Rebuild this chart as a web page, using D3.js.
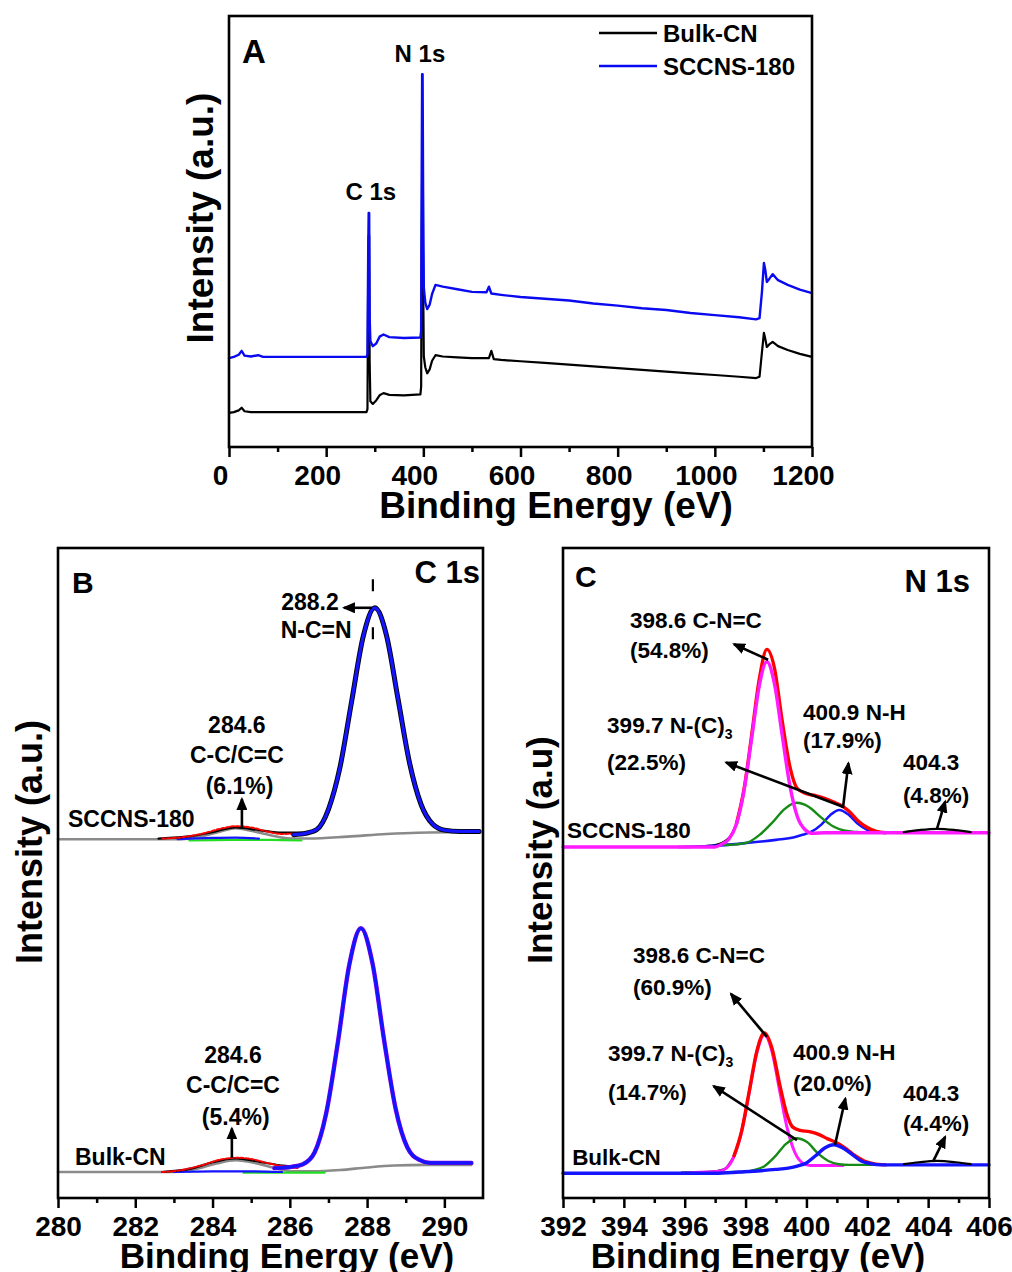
<!DOCTYPE html>
<html><head><meta charset="utf-8">
<script src="https://cdn.jsdelivr.net/npm/d3@7"></script>
<style>body{margin:0;background:#fff}text{font-family:'Liberation Sans',Arial,Helvetica,sans-serif;font-weight:bold;fill:#000}</style>
</head><body>
<script>
// ---------------- DATA ----------------
// Panel A: survey spectra [binding energy (eV), intensity (a.u.)]
const sccnsSurvey = [[0,20.6],[10,20.9],[20,21.4],[26,22.3],[32,21.2],[45,21.0],[60,21.3],[70,20.9],[150,20.9],[283,20.9],[285,21.5],[286.5,45],[287.5,54.3],[288.5,54.3],[289.5,30],[291,24.6],[296,23.4],[303,24.0],[310,25.6],[318,26.1],[330,25.5],[360,25.3],[394,25.4],[395.5,27],[396.5,60],[397.5,86.5],[398.5,86.5],[399.5,60],[401,37],[404,33.5],[408,32.0],[413,33],[418,35.5],[425,37.6],[440,37.2],[470,36.6],[500,36.0],[530,35.9],[535,37.2],[540,35.6],[560,35.3],[600,34.8],[650,34.4],[700,34.0],[750,33.3],[800,32.8],[850,32.2],[900,31.8],[950,31.1],[1000,30.6],[1050,30.1],[1085,29.6],[1092,29.9],[1097,36],[1101,42.7],[1104,41],[1107,38.3],[1112,39],[1119,40.1],[1130,38.7],[1150,37.6],[1175,36.5],[1200,35.7]];
const bulkSurvey = [[0,7.9],[10,8.1],[20,8.5],[26,9.1],[32,8.3],[45,8.1],[150,8.1],[283,8.1],[285,8.8],[286.5,40],[287.5,49],[288.5,49],[289.5,20],[291,10.6],[296,10.0],[303,10.8],[310,12.0],[318,12.5],[330,12.1],[360,12.0],[394,12.2],[395.5,14],[396.5,45],[397.5,61.9],[398.5,61.9],[399.5,40],[401,21],[404,18.5],[408,17.1],[413,18],[418,20.0],[425,21.3],[440,21.0],[470,20.8],[500,20.6],[535,20.6],[540,22.3],[545,20.4],[560,20.2],[600,19.9],[650,19.5],[700,19.1],[750,18.7],[800,18.3],[850,17.9],[900,17.5],[950,17.1],[1000,16.7],[1050,16.3],[1085,16.0],[1092,16.3],[1097,22],[1101,26.5],[1104,25],[1107,23.2],[1112,23.8],[1119,24.4],[1130,23.4],[1150,22.5],[1175,21.6],[1200,20.9]];
const surveyTicks = [0,200,400,600,800,1000,1200];
const surveyMinor = [100,300,500,700,900,1100];
const legendNames = ["Bulk-CN","SCCNS-180"];

// Panel B: C 1s
const c1sTicks = [280,282,284,286,288,290];
const c1sMinor = [281,283,285,287,289];
const bTopRaw = [[282.6,55.3],[283.5,55.7],[284.0,56.3],[284.6,57.0],[285.2,56.6],[285.8,56.2],[286.4,56.2],[286.7,56.7],[287.0,59.8],[287.3,66.3],[287.6,76.4],[287.9,86.4],[288.2,90.8],[288.5,86.6],[288.8,76.8],[289.1,66.9],[289.4,60.5],[289.7,57.5],[290.0,56.6],[290.4,56.4],[290.9,56.4]];
const bTopFit = [[286.1,55.9],[286.4,56.1],[286.7,56.7],[287.0,59.8],[287.3,66.3],[287.6,76.4],[287.9,86.4],[288.2,90.8],[288.5,86.6],[288.8,76.8],[289.1,66.9],[289.4,60.5],[289.7,57.5],[290.0,56.6],[290.4,56.4],[290.9,56.4]];
const bTopBg = [[280,55.2],[283.2,55.2],[283.7,55.6],[284.2,56.4],[284.6,56.9],[285.0,56.5],[285.5,55.8],[286.0,55.3],[286.5,55.3],[287.5,55.6],[288.5,56.0],[289.3,56.2],[290.9,56.3]];
const bTopEnv = [[282.7,55.3],[283.2,55.5],[283.7,56.0],[284.2,56.8],[284.6,57.2],[285.0,57.0],[285.4,56.4],[285.8,56.0],[286.2,56.1]];
const bTopBlue = [[283.1,55.2],[284.0,55.4],[284.6,55.45],[285.2,55.3]];
const bTopGreen = [[283.4,55.0],[284.5,55.1],[285.5,55.1],[286.3,55.0]];
const bBotRaw = [[282.7,4.0],[283.5,4.6],[284.0,5.5],[284.6,6.1],[285.2,5.6],[285.8,5.0],[286.04,4.9],[286.34,5.2],[286.64,7.0],[286.94,13.0],[287.24,23.8],[287.54,35.9],[287.84,41.5],[288.14,36.1],[288.44,24.3],[288.74,13.7],[289.04,7.8],[289.34,5.9],[289.64,5.4],[290.0,5.4],[290.7,5.4]];
const bBotFit = [[285.6,4.6],[286.04,4.8],[286.34,5.2],[286.64,7.0],[286.94,13.0],[287.24,23.8],[287.54,35.9],[287.84,41.5],[288.14,36.1],[288.44,24.3],[288.74,13.7],[289.04,7.8],[289.34,5.9],[289.64,5.4],[290.0,5.4],[290.7,5.4]];
const bBotBg = [[280,4.0],[283.0,4.0],[283.6,4.5],[284.1,5.3],[284.6,5.8],[285.1,5.4],[285.6,4.6],[286.1,4.1],[286.6,4.1],[287.3,4.3],[288.0,4.7],[288.7,5.0],[289.5,5.1],[290.7,5.1]];
const bBotEnv = [[282.7,4.0],[283.2,4.3],[283.7,5.0],[284.2,5.9],[284.6,6.2],[285.0,6.0],[285.4,5.4],[285.8,4.9],[286.2,4.6]];
const bBotBlue = [[283.0,4.0],[284.0,4.1],[285.0,4.1],[285.8,4.0]];
const bBotGreen = [[284.8,3.9],[286.0,3.9],[286.9,3.9]];

// Panel C: N 1s
const n1sTicks = [392,394,396,398,400,402,404,406];
const n1sMinor = [393,395,397,399,401,403,405];
const cTopMag = [[392,54.0],[397.0,54.0],[397.2,54.4],[397.45,55.2],[397.7,57.5],[397.95,62.7],[398.2,70.7],[398.45,78.8],[398.7,82.5],[398.95,79.1],[399.2,71.3],[399.45,63.6],[399.7,58.7],[399.95,56.7],[400.2,56.1],[400.6,56.2],[406,56.2]];
const cTopGreen = [[397.3,54.3],[397.67,54.4],[398.07,54.7],[398.47,55.9],[398.87,57.7],[399.27,59.8],[399.67,60.8],[400.07,60.2],[400.47,58.6],[400.87,57.2],[401.27,56.5],[401.67,56.3],[402.1,56.2]];
const cTopBlue = [[396.0,54.0],[397.0,54.2],[398.0,54.6],[399.0,55.1],[399.6,55.5],[399.88,55.9],[400.18,56.4],[400.48,57.4],[400.78,58.9],[401.08,59.7],[401.38,59.0],[401.68,57.6],[401.98,56.7],[402.28,56.3],[402.6,56.2]];
const cTopEnv = [[397.7,57.6],[397.95,62.9],[398.2,71.2],[398.45,79.8],[398.7,84.4],[398.95,81.5],[399.2,73.5],[399.45,66.5],[399.7,63.0],[400.0,62.2],[400.3,61.9],[400.6,61.5],[400.9,60.9],[401.1,60.5],[401.4,59.5],[401.7,58.0],[402.0,57.0],[402.3,56.4],[402.6,56.2]];
const cTopRaw = [[395.8,54.0],[396.6,54.1],[397.1,54.4],[397.5,55.6],[397.7,57.6]];
const cTopComp4 = [[403.2,56.3],[403.7,56.6],[404.3,56.8],[404.9,56.6],[405.4,56.3]];
const cBotMag = [[396.2,3.9],[397.12,4.1],[397.37,4.6],[397.62,6.4],[397.87,10.2],[398.12,16.2],[398.37,22.3],[398.62,25.1],[398.87,22.5],[399.12,16.5],[399.37,10.7],[399.62,7.0],[399.87,5.4],[400.12,5.0],[401.2,5.0]];
const cBotGreen = [[397.6,4.0],[397.92,4.0],[398.27,4.3],[398.62,4.9],[398.97,6.4],[399.32,8.3],[399.67,9.2],[400.02,8.6],[400.37,6.9],[400.72,5.7],[401.07,5.2],[401.42,5.1],[402.3,5.1]];
const cBotBlue = [[392,3.8],[397.0,3.8],[397.8,4.0],[398.5,4.2],[399.0,4.4],[399.4,4.6],[399.7,4.9],[400.0,5.4],[400.3,6.5],[400.6,7.7],[400.9,8.2],[401.2,7.7],[401.5,6.7],[401.8,5.7],[402.1,5.3],[402.5,5.1],[406,5.1]];
const cBotEnv = [[397.62,6.5],[397.87,10.3],[398.12,16.4],[398.37,22.6],[398.62,25.4],[398.87,23.0],[399.12,17.5],[399.35,13.0],[399.55,10.9],[399.8,10.4],[400.1,10.2],[400.4,9.8],[400.7,9.1],[400.95,8.6],[401.3,7.6],[401.6,6.5],[401.9,5.7],[402.2,5.3],[402.6,5.1]];
const cBotRaw = [[395.9,3.9],[396.8,4.0],[397.3,4.4],[397.62,6.4]];
const cBotComp4 = [[403.2,5.2],[403.7,5.5],[404.3,5.7],[404.9,5.5],[405.4,5.2]];

// Annotation labels (anchored in energy / intensity units)
const labelsB = [
  {t:"288.2",x:286.52,y:91.7,a:"middle"},{t:"N-C=N",x:286.68,y:87.4,a:"middle"},
  {t:"284.6",x:284.63,y:72.8,a:"middle"},{t:"C-C/C=C",x:284.63,y:68.2,a:"middle"},{t:"(6.1%)",x:284.7,y:63.5,a:"middle"},
  {t:"SCCNS-180",x:280.26,y:58.3,a:"start"},
  {t:"284.6",x:284.53,y:22.0,a:"middle"},{t:"C-C/C=C",x:284.53,y:17.4,a:"middle"},{t:"(5.4%)",x:284.6,y:12.5,a:"middle"},
  {t:"Bulk-CN",x:280.44,y:6.3,a:"start"}
];
const arrowsB = [[[288.13,90.8],[287.40,90.8]],[[284.76,56.9],[284.76,61.4]],[[284.50,6.2],[284.50,10.7]]];
const labelsC = [
  {t:"398.6 C-N=C",x:394.20,y:88.9},{t:"(54.8%)",x:394.20,y:84.3},
  {t:"399.7 N-(C)",sub:"3",x:393.45,y:72.8},{t:"(22.5%)",x:393.45,y:67.1},
  {t:"400.9 N-H",x:399.89,y:74.8},{t:"(17.9%)",x:399.89,y:70.5},
  {t:"404.3",x:403.17,y:67.1},{t:"(4.8%)",x:403.17,y:62.0},
  {t:"SCCNS-180",x:392.13,y:56.6},
  {t:"398.6 C-N=C",x:394.30,y:37.4},{t:"(60.9%)",x:394.30,y:32.5},
  {t:"399.7 N-(C)",sub:"3",x:393.48,y:22.3},{t:"(14.7%)",x:393.48,y:16.3},
  {t:"400.9 N-H",x:399.56,y:22.5},{t:"(20.0%)",x:399.56,y:17.7},
  {t:"404.3",x:403.17,y:16.2},{t:"(4.4%)",x:403.17,y:11.5},
  {t:"Bulk-CN",x:392.30,y:6.3}
];
const arrowsC = [
  [[398.74,82.8],[397.62,85.2]],[[401.2,60.2],[397.36,67.0]],[[401.2,60.0],[401.38,66.9]],[[404.29,56.8],[404.56,61.0]],
  [[398.70,24.8],[397.52,31.4]],[[399.69,8.9],[396.95,17.2]],[[400.94,8.2],[401.28,15.3]],[[404.16,5.6],[404.56,9.4]]
];

// ---------------- DRAW ----------------
const W = 1012, H = 1272;
const svg = d3.select("body").append("svg").attr("width", W).attr("height", H);
const defs = svg.append("defs");
defs.append("marker").attr("id","ah").attr("markerUnits","userSpaceOnUse")
  .attr("markerWidth",13).attr("markerHeight",11).attr("refX",11).attr("refY",5.5).attr("orient","auto")
  .append("path").attr("d","M0,0 L13,5.5 L0,11 Z").attr("fill","#000");

const BLUE = "#1414ff", GREEN = "#168c16", MAG = "#ff1aff", RED = "#ff0000", GRAY = "#8a8a8a";

function frame(x0, x1, y0, y1) {
  svg.append("rect").attr("x", x0).attr("y", y0).attr("width", x1 - x0).attr("height", y1 - y0)
    .attr("fill", "none").attr("stroke", "#000").attr("stroke-width", 2.6);
}
function xAxis(sx, yPix, ticks, minor, fs, dx) {
  const g = svg.append("g").attr("transform", `translate(0,${yPix})`)
    .call(d3.axisBottom(sx).tickValues(ticks).tickSize(10).tickSizeOuter(0).tickPadding(8).tickFormat(d3.format("d")));
  g.select(".domain").remove();
  g.selectAll(".tick line").attr("stroke", "#000").attr("stroke-width", 2.5);
  g.selectAll(".tick text").attr("font-size", fs).attr("dx", dx || 0)
    .style("font-family","'Liberation Sans',Arial,sans-serif").style("font-weight","bold");
  const m = svg.append("g").attr("transform", `translate(0,${yPix})`)
    .call(d3.axisBottom(sx).tickValues(minor).tickSize(5).tickFormat(""));
  m.select(".domain").remove();
  m.selectAll(".tick line").attr("stroke", "#000").attr("stroke-width", 2.5);
}
function txt(x, y, s, fs, anchor) {
  return svg.append("text").attr("x", x).attr("y", y).attr("font-size", fs).attr("text-anchor", anchor || "start").text(s);
}
function ylab(x, y, s, fs) {
  svg.append("text").attr("transform", `translate(${x},${y}) rotate(-90)`).attr("text-anchor", "middle")
    .attr("font-size", fs).text(s);
}
function plot(line, data, color, w, dash) {
  const p = svg.append("path").datum(data).attr("d", line).attr("fill", "none").attr("stroke", color)
    .attr("stroke-width", w).attr("stroke-linejoin", "round").attr("stroke-linecap", "round");
  if (dash) p.attr("stroke-dasharray", dash);
  return p;
}

// ---- Panel A ----
const xA = d3.scaleLinear().domain([0, 1200]).range([229, 812]);
const yA = d3.scaleLinear().domain([0, 100]).range([447, 16]);
const lineA = d3.line().x(d => xA(d[0])).y(d => yA(d[1]));
plot(lineA, bulkSurvey, "#000", 2.2);
plot(lineA, sccnsSurvey, "#0a0af0", 2.4);
frame(229, 812, 16, 447);
xAxis(xA, 447, surveyTicks, surveyMinor, 28, -9);
txt(242, 63, "A", 33);
txt(xA(292), yA(57.3), "C 1s", 24, "middle");
txt(xA(393), yA(89.3), "N 1s", 24, "middle");
// legend
[["#000", 33], ["#0a0af0", 66]].forEach((c, i) => {
  svg.append("line").attr("x1", 599).attr("x2", 657).attr("y1", c[1]).attr("y2", c[1]).attr("stroke", c[0]).attr("stroke-width", 2.6);
  txt(663, c[1] + 8.5, legendNames[i], 24);
});
txt(556, 518, "Binding Energy (eV)", 37, "middle");
ylab(213, 218, "Intensity (a.u.)", 37);

// ---- Panel B ----
const xB = d3.scaleLinear().domain([280, 291]).range([58, 483]);
const yB = d3.scaleLinear().domain([0, 100]).range([1198, 548]);
const lineB = d3.line().x(d => xB(d[0])).y(d => yB(d[1])).curve(d3.curveMonotoneX);
// top
plot(lineB, bTopBg, GRAY, 2.6);
plot(lineB, bTopGreen, "#22dd22", 2.2);
plot(lineB, bTopBlue, BLUE, 2.2);
plot(lineB, bTopRaw, "#000", 2.2);
plot(lineB, bTopEnv, RED, 2, "3,2");
plot(lineB, bTopFit, "#000", 5);
plot(lineB, bTopFit, BLUE, 3.2);
// bottom
plot(lineB, bBotBg, GRAY, 2.6);
plot(lineB, bBotGreen, "#22dd22", 2.2);
plot(lineB, bBotBlue, BLUE, 2.2);
plot(lineB, bBotRaw, "#000", 2.2);
plot(lineB, bBotEnv, RED, 2, "3,2");
plot(lineB, bBotFit, "#8a00e0", 4.4);
plot(lineB, bBotFit, BLUE, 3.2);
// dashed marker line at 288.2
svg.append("line").attr("x1", xB(288.15)).attr("x2", xB(288.15)).attr("y1", yB(95.2)).attr("y2", yB(84.8))
  .attr("stroke", "#000").attr("stroke-width", 2.2).attr("stroke-dasharray", "12,36");
arrowsB.forEach(a => svg.append("line").attr("x1", xB(a[0][0])).attr("y1", yB(a[0][1]))
  .attr("x2", xB(a[1][0])).attr("y2", yB(a[1][1])).attr("stroke", "#000").attr("stroke-width", 2.6).attr("marker-end", "url(#ah)"));
labelsB.forEach(l => txt(xB(l.x), yB(l.y), l.t, 23, l.a).attr("dy", "0.36em"));
frame(58, 483, 548, 1198);
xAxis(xB, 1198, c1sTicks, c1sMinor, 28);
txt(72, 593, "B", 30);
txt(480, 583, "C 1s", 31, "end");
txt(287, 1268, "Binding Energy (eV)", 35, "middle");
ylab(42, 842, "Intensity (a.u.)", 36);

// ---- Panel C ----
const xC = d3.scaleLinear().domain([392, 406]).range([563, 989]);
const yC = d3.scaleLinear().domain([0, 100]).range([1198, 548]);
const lineC = d3.line().x(d => xC(d[0])).y(d => yC(d[1])).curve(d3.curveMonotoneX);
// top
plot(lineC, cTopRaw, "#000", 2.4);
plot(lineC, cTopBlue, BLUE, 2.6);
plot(lineC, cTopGreen, GREEN, 2.4);
plot(lineC, cTopEnv, RED, 3.4);
plot(lineC, cTopMag, MAG, 3.4);
plot(lineC, cTopComp4, "#000", 2.2);
// bottom
plot(lineC, cBotRaw, "#000", 2.4);
plot(lineC, cBotMag, MAG, 3.0);
plot(lineC, cBotGreen, GREEN, 2.4);
plot(lineC, cBotEnv, RED, 3.4);
plot(lineC, cBotBlue, BLUE, 3.4);
plot(lineC, cBotComp4, "#000", 2.2);
arrowsC.forEach(a => svg.append("line").attr("x1", xC(a[0][0])).attr("y1", yC(a[0][1]))
  .attr("x2", xC(a[1][0])).attr("y2", yC(a[1][1])).attr("stroke", "#000").attr("stroke-width", 2.6).attr("marker-end", "url(#ah)"));
labelsC.forEach(l => {
  const t = txt(xC(l.x), yC(l.y), l.t, 22.5).attr("dy", "0.36em");
  if (l.sub) t.append("tspan").attr("font-size", 14).attr("dy", "0.45em").text(l.sub);
});
frame(563, 989, 548, 1198);
xAxis(xC, 1198, n1sTicks, n1sMinor, 28);
txt(575, 587, "C", 30);
txt(970, 592, "N 1s", 31, "end");
txt(758, 1268, "Binding Energy (eV)", 35, "middle");
ylab(552, 850, "Intensity (a.u)", 35);
</script>
</body></html>
